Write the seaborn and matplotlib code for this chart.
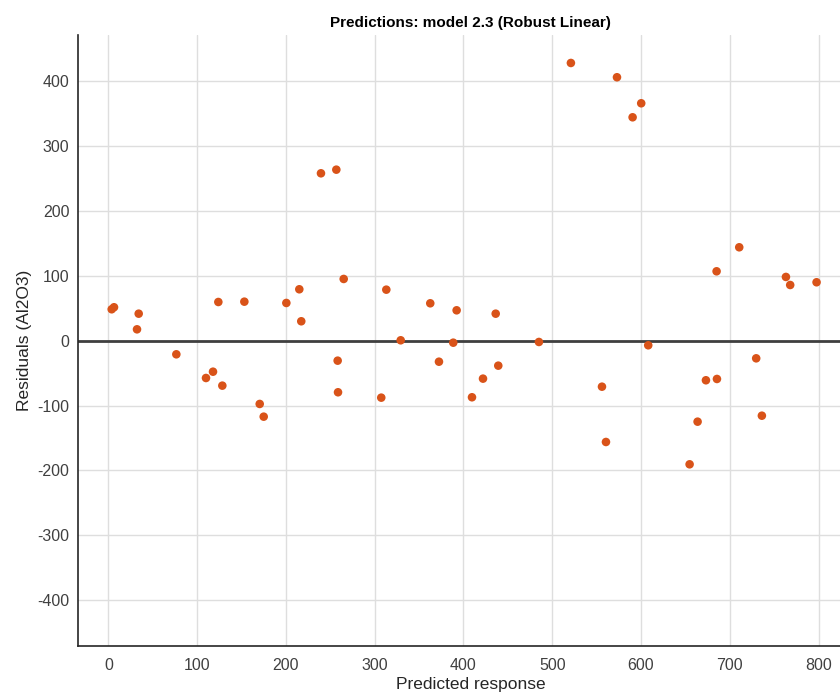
import matplotlib
matplotlib.use("Agg")
import matplotlib.pyplot as plt
import seaborn as sns
import pandas as pd

predicted = [3.8, 6.4, 32.3, 34.2, 76.6, 110.0, 117.9, 123.9, 128.4, 153.2,
             170.5, 175.0, 200.5, 215.1, 217.3, 239.5, 256.8, 258.3, 258.7, 265.1,
             307.4, 313.1, 329.3, 362.6, 372.4, 388.5, 392.3, 409.6, 422.0, 436.3,
             439.2, 485.0, 521.0, 556.0, 560.5, 572.9, 590.5, 600.2, 608.1, 654.7,
             663.7, 673.1, 685.1, 685.5, 710.6, 729.7, 736.1, 763.2, 768.0, 797.7]
residuals = [48.4, 51.5, 17.5, 41.6, -21.0, -57.5, -47.8, 59.6, -69.3, 60.1,
             -97.5, -117.1, 58.1, 79.2, 29.9, 257.9, 263.5, -30.8, -79.5, 95.1,
             -87.8, 78.6, 0.6, 57.6, -32.4, -3.1, 46.8, -87.2, -58.5, 41.6,
             -38.5, -2.0, 427.9, -70.9, -156.1, 405.9, 344.2, 365.8, -7.1, -190.5,
             -124.8, -61.0, 106.9, -59.0, 143.9, -27.2, -115.6, 98.2, 85.8, 90.0]
x_ticks = [0, 100, 200, 300, 400, 500, 600, 700, 800]
y_ticks = [-400, -300, -200, -100, 0, 100, 200, 300, 400]

df = pd.DataFrame({"Predicted response": predicted, "Residuals (Al2O3)": residuals})

sns.set_theme(style="white")
plt.rcParams["font.family"] = ["Liberation Sans", "DejaVu Sans"]
plt.rcParams["axes.unicode_minus"] = False

fig = plt.figure(figsize=(8.4, 7.0), dpi=100)
ax = fig.add_axes([77.7 / 840, 54.3 / 700, (863 - 77.7) / 840, (645.7 - 35) / 700])

ax.set_xlim(-34.5, 850)
ax.set_ylim(-470, 471)
ax.set_xticks(x_ticks)
ax.set_yticks(y_ticks)
ax.grid(True, color="#dedede", linewidth=1.0)
ax.set_axisbelow(True)

ax.axhline(0, color="#3f3f3f", linewidth=2.0, zorder=1.5)

sns.scatterplot(data=df, x="Predicted response", y="Residuals (Al2O3)", ax=ax,
                color="#D95319", s=38, edgecolor="none", zorder=3)

for side in ["top", "right"]:
    ax.spines[side].set_visible(False)
for side in ["left", "bottom"]:
    ax.spines[side].set_color("#262626")
    ax.spines[side].set_linewidth(1.2)

ax.tick_params(axis="both", direction="in", length=5, width=1.0, color="#262626",
               labelsize=11.5, labelcolor="#404040")
ax.tick_params(axis="y", pad=6)
ax.tick_params(axis="x", pad=9)
ax.set_xlabel("Predicted response", fontsize=12.5, color="#262626", labelpad=3)
ax.set_ylabel("Residuals (Al2O3)", fontsize=12.5, color="#262626", labelpad=4)
ax.set_title("Predictions: model 2.3 (Robust Linear)", fontsize=11, fontweight="bold",
             color="#000000", pad=6)

fig.savefig("out.png", dpi=100)
